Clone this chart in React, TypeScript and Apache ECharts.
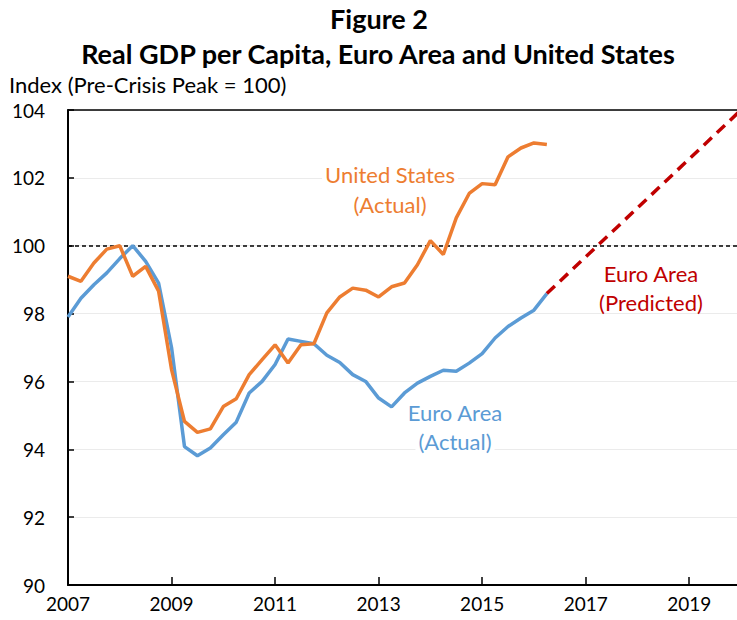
import React, { useEffect, useRef } from "react";
import * as echarts from "echarts";

// Quarter index 0 sits at the start of 2007 on the axis; one step = one quarter.
const START_YEAR = 2007;
const X_SPAN_YEARS = 13; // axis runs 2007 → 2020
const xTickStepYears = 2;
const yMin = 90;
const yMax = 104;
const yStep = 2;
const referenceLevel = 100;

// Euro Area real GDP per capita (Actual), quarterly
const euroActual = [
  97.9, 98.45, 98.85, 99.2, 99.62, 100.0, 99.54, 98.9, 97.0, 94.08,
  93.81, 94.04, 94.43, 94.8, 95.66, 96.0, 96.5, 97.25, 97.18, 97.11,
  96.77, 96.56, 96.2, 96.0, 95.51, 95.25, 95.66, 95.95, 96.15, 96.33,
  96.3, 96.54, 96.82, 97.28, 97.62, 97.87, 98.1, 98.59,
];

// United States real GDP per capita (Actual), quarterly
const usActual = [
  99.1, 98.95, 99.49, 99.9, 100.0, 99.1, 99.39, 98.66, 96.35, 94.82,
  94.5, 94.6, 95.26, 95.49, 96.2, 96.64, 97.08, 96.54, 97.08, 97.11,
  98.02, 98.49, 98.75, 98.69, 98.49, 98.79, 98.9, 99.44, 100.15, 99.74,
  100.82, 101.54, 101.83, 101.8, 102.62, 102.88, 103.03, 102.98,
];

// Euro Area (Predicted): quarter indices and values
const euroPredictedQuarters = [37, 52];
const euroPredictedValues = [98.59, 104.0];

const FONT = "Lato, 'Open Sans', sans-serif";
const ORANGE = "#ED7D31";
const BLUE = "#5B9BD5";
const RED = "#C00000";

const toPairs = (vals: number[]) => vals.map((v, i) => [i / 4, v]);

function txt(
  text: string,
  x: number,
  y: number,
  color: string,
  size: number,
  weight = "normal",
  align = "center",
  bg = false
) {
  return {
    type: "text",
    x,
    y,
    z: 10,
    silent: true,
    style: {
      text,
      fill: color,
      font: `${weight} ${size}px ${FONT}`,
      textAlign: align,
      align,
      textVerticalAlign: "middle",
      verticalAlign: "middle",
      ...(bg ? { backgroundColor: "#fff", padding: [0, 3] } : {}),
    },
  };
}

export default function App() {
  const ref = useRef<HTMLDivElement>(null);
  useEffect(() => {
    if (!ref.current) return;
    const chart = echarts.init(ref.current, undefined, { renderer: "svg" });
    const axisLabelStyle = { fontSize: 19, color: "#000", fontFamily: FONT };
    chart.setOption({
      animation: false,
      backgroundColor: "#fff",
      grid: { left: 68, right: 4, top: 110, bottom: 35 },
      xAxis: [
        {
          type: "value",
          min: 0,
          max: X_SPAN_YEARS,
          interval: xTickStepYears,
          axisLine: { onZero: false, lineStyle: { color: "#000", width: 2 } },
          axisTick: { inside: true, length: 8, lineStyle: { color: "#000", width: 1.5 } },
          axisLabel: {
            ...axisLabelStyle,
            margin: 9,
            showMaxLabel: false,
            formatter: (v: number) => String(START_YEAR + v),
          },
          splitLine: { show: false },
        },
        {
          type: "value",
          position: "top",
          min: 0,
          max: X_SPAN_YEARS,
          interval: xTickStepYears,
          axisLine: { onZero: false, lineStyle: { color: "#000", width: 1.5 } },
          axisTick: { show: false },
          axisLabel: { show: false },
          splitLine: { show: false },
        },
      ],
      yAxis: {
        type: "value",
        min: yMin,
        max: yMax,
        interval: yStep,
        axisLine: { show: true, onZero: false, lineStyle: { color: "#000", width: 2 } },
        axisTick: { show: true, inside: true, length: 6, lineStyle: { color: "#000", width: 1.5 } },
        axisLabel: { ...axisLabelStyle, margin: 23 },
        splitLine: { lineStyle: { color: "#EBEBEB", width: 1 } },
      },
      series: [
        {
          name: "Euro Area (Actual)",
          type: "line",
          data: toPairs(euroActual),
          showSymbol: false,
          lineStyle: { color: BLUE, width: 3.5 },
          z: 3,
          markLine: {
            silent: true,
            symbol: ["none", "none"],
            label: { show: false },
            lineStyle: { color: "#000", type: [4, 3], width: 1.5 },
            data: [{ yAxis: referenceLevel }],
            z: 1,
          },
        },
        {
          name: "United States (Actual)",
          type: "line",
          data: toPairs(usActual),
          showSymbol: false,
          lineStyle: { color: ORANGE, width: 3.5 },
          z: 4,
        },
        {
          name: "Euro Area (Predicted)",
          type: "line",
          data: euroPredictedQuarters.map((q, i) => [q / 4, euroPredictedValues[i]]),
          showSymbol: false,
          lineStyle: { color: RED, width: 3.5, type: [11, 7] },
          z: 5,
        },
      ],
      graphic: [
        txt("Figure 2", 379, 18, "#000", 27, "bold"),
        txt("Real GDP per Capita, Euro Area and United States", 378, 53, "#000", 27, "bold"),
        txt("Index (Pre-Crisis Peak = 100)", 9, 84, "#000", 22, "normal", "left"),
        txt("United States", 390, 174, ORANGE, 22, "normal", "center", true),
        txt("(Actual)", 390, 204, ORANGE, 22, "normal", "center", true),
        txt("Euro Area", 455, 412, BLUE, 22, "normal", "center", true),
        txt("(Actual)", 455, 441, BLUE, 22, "normal", "center", true),
        txt("Euro Area", 651, 273, RED, 22, "normal", "center", true),
        txt("(Predicted)", 651, 302, RED, 22, "normal", "center", true),
      ],
    });
    return () => chart.dispose();
  }, []);
  return (
    <div style={{ position: "absolute", left: 0, top: 0, width: 737, height: 620, overflow: "hidden", background: "#fff" }}>
      <div ref={ref} style={{ width: 745, height: 620 }} />
    </div>
  );
}
